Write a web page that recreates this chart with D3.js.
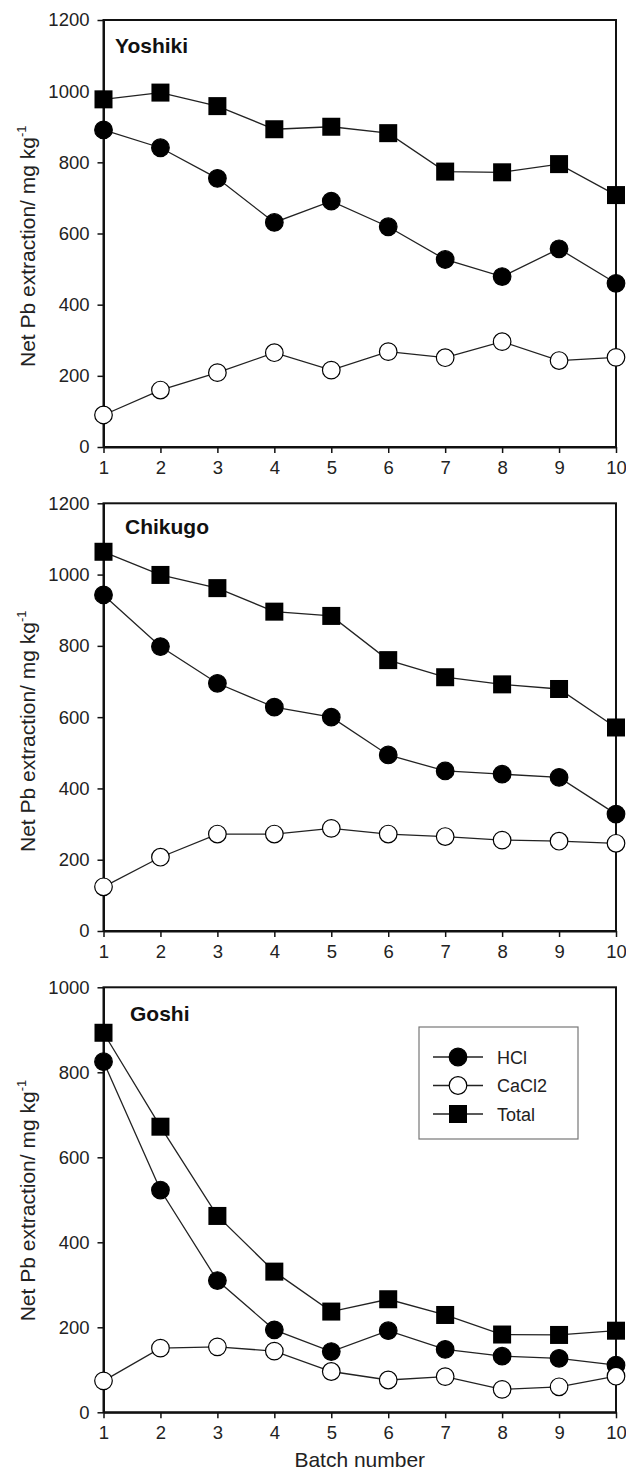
<!DOCTYPE html>
<html><head><meta charset="utf-8">
<script src="https://cdn.jsdelivr.net/npm/d3@7"></script>
<style>
body{margin:0;background:#fff;}
svg{display:block;font-family:"Liberation Sans",Arial,sans-serif;}
</style></head>
<body><svg id="c" width="626" height="1475"></svg>
<script>
const batches = [1,2,3,4,5,6,7,8,9,10];
const panelNames = ["Yoshiki","Chikugo","Goshi"];
const yMax = [1200,1200,1000];
const yTicksTop = [0,200,400,600,800,1000,1200];
const yTicksBottom = [0,200,400,600,800,1000];
const seriesNames = ["HCl","CaCl2","Total"];

const yoshikiHCl   = [891,841,755,631,691,619,527,479,557,460];
const yoshikiCaCl2 = [90,160,209,265,216,268,251,296,243,252];
const yoshikiTotal = [977,996,958,893,900,882,774,772,795,708];

const chikugoHCl   = [943,798,695,628,600,494,449,440,431,328];
const chikugoCaCl2 = [124,207,272,272,288,272,265,255,252,246];
const chikugoTotal = [1064,999,962,896,884,760,712,692,679,571];

const goshiHCl   = [825,523,310,194,143,192,148,132,127,111];
const goshiCaCl2 = [74,151,154,144,96,76,84,54,60,85];
const goshiTotal = [893,672,462,331,237,266,229,183,182,192];

const panelData = [
  [yoshikiHCl, yoshikiCaCl2, yoshikiTotal],
  [chikugoHCl, chikugoCaCl2, chikugoTotal],
  [goshiHCl, goshiCaCl2, goshiTotal]
];
const panelTicks = [yTicksTop, yTicksTop, yTicksBottom];

// layout
const left = 103.5, right = 616;
const panelTop = [20, 503.3, 987.3];
const panelBottom = [447, 931, 1412.3];
const labelBottomOffset = [80, 79, 91];
const titlePos = [[115,53],[125,534],[130,1021]];

const svg = d3.select("#c");
const x = d3.scaleLinear().domain([1,10]).range([left,right]);
const ink = "#111";

panelNames.forEach((name,i)=>{
  const y = d3.scaleLinear().domain([0,yMax[i]]).range([panelBottom[i],panelTop[i]]);
  const g = svg.append("g");
  // frame
  g.append("rect").attr("x",left).attr("y",panelTop[i]).attr("width",right-left)
    .attr("height",panelBottom[i]-panelTop[i]).attr("fill","none").attr("stroke",ink).attr("stroke-width",2);
  // y axis
  const ya = g.append("g").attr("transform",`translate(${left},0)`)
    .call(d3.axisLeft(y).tickValues(panelTicks[i]).tickSize(6).tickSizeOuter(0).tickPadding(8).tickFormat(d3.format("d")));
  ya.select(".domain").attr("stroke",ink).attr("stroke-width",2);
  ya.selectAll(".tick line").attr("stroke",ink).attr("stroke-width",1.5);
  ya.selectAll(".tick text").attr("font-size",18.5).attr("fill","#222").attr("font-family","Liberation Sans, Arial, sans-serif");
  // x axis
  const xa = g.append("g").attr("transform",`translate(0,${panelBottom[i]})`)
    .call(d3.axisBottom(x).tickValues(batches).tickSize(6).tickSizeOuter(0).tickPadding(8).tickFormat(d3.format("d")));
  xa.select(".domain").attr("stroke",ink).attr("stroke-width",2);
  xa.selectAll(".tick line").attr("stroke",ink).attr("stroke-width",1.5);
  xa.selectAll(".tick text").attr("font-size",18.5).attr("fill","#222").attr("font-family","Liberation Sans, Arial, sans-serif");
  // y label
  const yl = g.append("text")
    .attr("transform",`translate(35,${panelBottom[i]-labelBottomOffset[i]}) rotate(-90)`)
    .attr("text-anchor","start").attr("font-size",21).attr("fill","#222");
  yl.append("tspan").text("Net Pb extraction/ mg kg");
  yl.append("tspan").attr("font-size",13).attr("dy",-9).text("-1");
  // title
  g.append("text").attr("x",titlePos[i][0]).attr("y",titlePos[i][1]).attr("font-size",21)
    .attr("font-weight","bold").attr("fill","#111").text(name);

  const line = d3.line().x((d,k)=>x(batches[k])).y(d=>y(d));
  const order = [2,0,1];
  order.forEach(s=>{
    g.append("path").datum(panelData[i][s]).attr("d",line).attr("fill","none")
      .attr("stroke","#222").attr("stroke-width",1.3);
  });
  order.forEach(s=>{
    const vals = panelData[i][s];
    if (s===2){
      g.selectAll(null).data(vals).enter().append("rect")
        .attr("x",(d,k)=>x(batches[k])-9).attr("y",d=>y(d)-9)
        .attr("width",18).attr("height",18).attr("fill","#000");
    } else {
      g.selectAll(null).data(vals).enter().append("circle")
        .attr("cx",(d,k)=>x(batches[k])).attr("cy",d=>y(d)).attr("r",8.8)
        .attr("fill", s===0 ? "#000" : "#fff").attr("stroke","#000").attr("stroke-width",1.2);
    }
  });
});

// x axis title
svg.append("text").attr("x",(left+right)/2).attr("y",1467).attr("text-anchor","middle")
  .attr("font-size",21).attr("fill","#222").text("Batch number");

// legend
const lg = svg.append("g");
lg.append("rect").attr("x",419).attr("y",1027).attr("width",159).attr("height",112)
  .attr("fill","#fff").attr("stroke","#777").attr("stroke-width",1.2);
const legY = [1057,1085.5,1114];
seriesNames.forEach((nm,s)=>{
  const yy = legY[s];
  lg.append("line").attr("x1",433).attr("x2",483).attr("y1",yy).attr("y2",yy).attr("stroke","#222").attr("stroke-width",1.3);
  if (s===2) lg.append("rect").attr("x",458-9).attr("y",yy-9).attr("width",18).attr("height",18).attr("fill","#000");
  else lg.append("circle").attr("cx",458).attr("cy",yy).attr("r",8.8).attr("fill",s===0?"#000":"#fff").attr("stroke","#000").attr("stroke-width",1.2);
  lg.append("text").attr("x",497).attr("y",yy+6.5).attr("font-size",18).attr("fill","#222").text(nm);
});
</script></body></html>
